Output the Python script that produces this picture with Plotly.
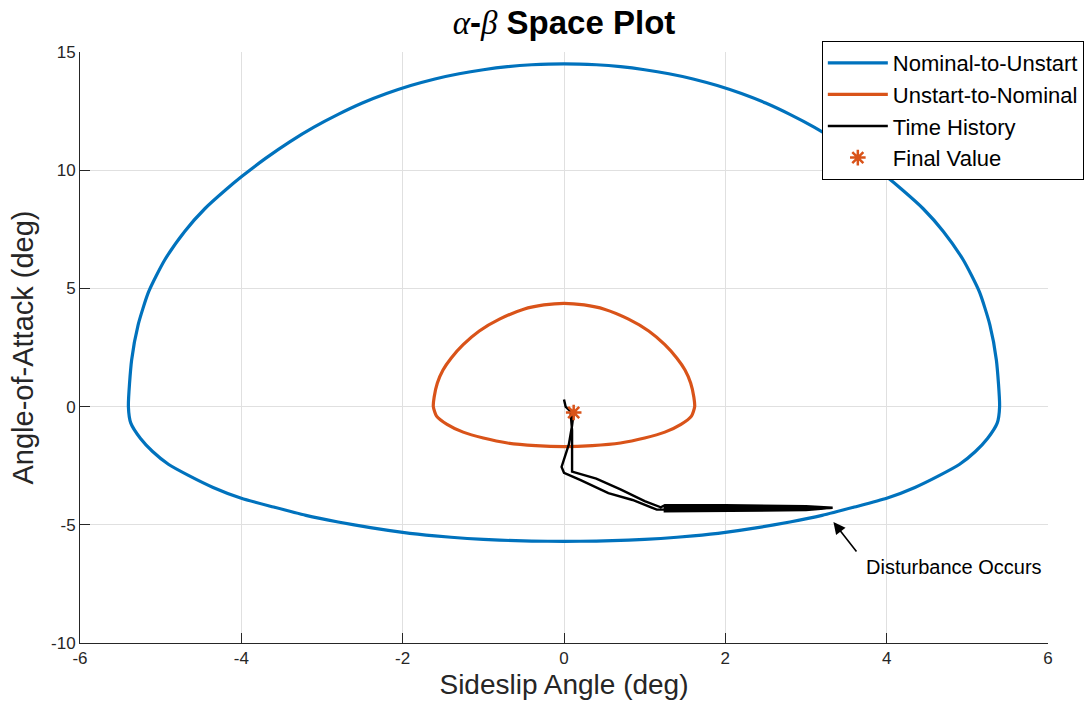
import plotly.graph_objects as go

# Nominal-to-Unstart boundary (upper arc left->right, then lower arc right->left)
nu_x = [-5.40, -5.36, -5.28, -5.15, -4.95, -4.70, -4.45, -4.20, -4.00, -3.70, -3.40, -3.10, -2.80, -2.50, -2.20,
        -1.90, -1.60, -1.30, -1.00, -0.70, -0.40, 0.00, 0.40, 0.70, 1.00, 1.30, 1.60, 1.90, 2.20, 2.50, 2.80,
        3.10, 3.40, 3.70, 4.00, 4.20, 4.45, 4.70, 4.95, 5.15, 5.28, 5.36, 5.40,
        5.37, 5.25, 5.10, 4.90, 4.65, 4.35, 4.00, 3.60, 3.20, 2.80, 2.40, 2.00, 1.60, 1.20, 0.80, 0.40, 0.00,
        -0.40, -0.80, -1.20, -1.60, -2.00, -2.40, -2.80, -3.20, -3.60, -4.00, -4.35, -4.65, -4.90, -5.10, -5.25,
        -5.37, -5.40]
nu_y = [0.00, 1.97, 3.45, 4.85, 6.20, 7.42, 8.38, 9.15, 9.72, 10.50, 11.20, 11.82, 12.36, 12.84, 13.24,
        13.58, 13.86, 14.08, 14.25, 14.38, 14.46, 14.50, 14.46, 14.38, 14.25, 14.08, 13.86, 13.58, 13.24, 12.84, 12.36,
        11.82, 11.20, 10.50, 9.72, 9.15, 8.38, 7.42, 6.20, 4.85, 3.45, 1.97, 0.00,
        -0.70, -1.35, -1.90, -2.45, -2.92, -3.42, -3.88, -4.25, -4.60, -4.88, -5.12, -5.32, -5.47, -5.58, -5.65, -5.69, -5.70,
        -5.69, -5.65, -5.58, -5.47, -5.32, -5.12, -4.88, -4.60, -4.25, -3.88, -3.42, -2.92, -2.45, -1.90, -1.35,
        -0.70, 0.00]

# Unstart-to-Nominal boundary
un_x = [-1.62, -1.61, -1.57, -1.50, -1.40, -1.25, -1.05, -0.80, -0.50, -0.25, 0.00, 0.25, 0.50, 0.80, 1.05, 1.25,
        1.40, 1.50, 1.57, 1.61, 1.62,
        1.58, 1.45, 1.25, 1.00, 0.70, 0.35, 0.00, -0.35, -0.70, -1.00, -1.25, -1.45, -1.58, -1.62]
un_y = [0.00, 0.40, 1.00, 1.55, 2.05, 2.62, 3.20, 3.70, 4.12, 4.30, 4.37, 4.30, 4.12, 3.70, 3.20, 2.62,
        2.05, 1.55, 1.00, 0.40, 0.00,
        -0.40, -0.75, -1.08, -1.33, -1.54, -1.65, -1.69, -1.65, -1.54, -1.33, -1.08, -0.75, -0.40, 0.00]

# Time history of the vehicle state
th_x = [0.00, 0.02, 0.08, 0.10, 0.10, 0.10, 0.40, 0.70, 1.00, 1.20,
        1.25, 2.00, 3.00, 3.33,
        3.00, 2.00, 1.25,
        1.25, 2.00, 3.00, 3.30,
        3.00, 2.00, 1.25,
        1.25, 2.00, 3.00, 3.30,
        3.00, 2.00, 1.25,
        1.25, 2.00, 3.00, 3.30,
        3.00, 2.00, 1.25, 1.15,
        0.85, 0.55, 0.20, 0.00, -0.03, 0.00, 0.06, 0.10, 0.12]
th_y = [0.30, 0.00, -0.20, -1.00, -2.00, -2.75, -3.05, -3.50, -4.00, -4.26,
        -4.17, -4.17, -4.21, -4.28,
        -4.38, -4.42, -4.43,
        -4.20, -4.20, -4.23, -4.28,
        -4.36, -4.40, -4.40,
        -4.23, -4.23, -4.25, -4.28,
        -4.34, -4.37, -4.37,
        -4.26, -4.26, -4.27, -4.29,
        -4.32, -4.33, -4.34, -4.36,
        -3.95, -3.66, -3.10, -2.80, -2.55, -2.20, -1.60, -0.80, -0.25]

final_x = [0.12]
final_y = [-0.25]

x_ticks = [-6, -4, -2, 0, 2, 4, 6]
y_ticks = [-10, -5, 0, 5, 10, 15]

FONT = "Liberation Sans, Arial, sans-serif"

fig = go.Figure()
fig.add_trace(go.Scatter(x=nu_x, y=nu_y, mode="lines", name="Nominal-to-Unstart",
                         line=dict(color="#0072BD", width=3.2, shape="spline", smoothing=0.6)))
fig.add_trace(go.Scatter(x=un_x, y=un_y, mode="lines", name="Unstart-to-Nominal",
                         line=dict(color="#D95319", width=3.2, shape="spline", smoothing=0.6)))
fig.add_trace(go.Scatter(x=th_x, y=th_y, mode="lines", name="Time History",
                         line=dict(color="black", width=2.4)))
fig.add_trace(go.Scatter(x=final_x, y=final_y, mode="markers", name="Final Value",
                         marker=dict(symbol="asterisk-open", size=13, color="#D95319",
                                     line=dict(color="#D95319", width=2.5))))

# Arrow for disturbance
fig.add_annotation(x=3.34, y=-4.88, ax=3.64, ay=-6.19, axref="x", ayref="y", xref="x", yref="y",
                   text="", showarrow=True, arrowhead=2, arrowsize=1.5, arrowwidth=1.6, arrowcolor="black")
fig.add_annotation(x=3.72, y=-6.78, xref="x", yref="y", text="Disturbance Occurs", showarrow=False,
                   xanchor="left", yanchor="middle", font=dict(family=FONT, size=20, color="black"))

axis_common = dict(showgrid=True, gridcolor="#e0e0e0", gridwidth=1, zeroline=False,
                   showline=True, linecolor="#262626", linewidth=1, mirror=False,
                   ticks="inside", ticklen=10, tickcolor="#262626", tickwidth=1,
                   tickfont=dict(family=FONT, size=17, color="#262626"))

title_text = ("<span style=\"font-family:'Liberation Serif', serif; font-weight:normal\"><i>α</i></span>"
              "<b>-</b>"
              "<span style=\"font-family:'Liberation Serif', serif; font-weight:normal\"><i>β</i></span>"
              " <b>Space Plot</b>")

fig.update_layout(
    width=1086, height=710,
    margin=dict(l=80, r=38, t=52, b=67, autoexpand=False),
    paper_bgcolor="white", plot_bgcolor="white",
    title=dict(text=title_text, x=0.5, xref="paper", y=0.969, yanchor="middle",
               xanchor="center", font=dict(family=FONT, size=33, color="black")),
    xaxis=dict(range=[-6, 6], tickvals=x_ticks, ticktext=[str(v) for v in x_ticks],
               title=dict(text="Sideslip Angle (deg)", font=dict(family=FONT, size=28, color="#262626"), standoff=6),
               **axis_common),
    yaxis=dict(range=[-10, 15], tickvals=y_ticks, ticktext=[str(v) for v in y_ticks],
               title=dict(text="Angle-of-Attack (deg)", font=dict(family=FONT, size=29, color="#262626"), standoff=8),
               **axis_common),
    legend=dict(xref="container", yref="container", x=0.998, y=1 - 41 / 710, xanchor="right", yanchor="top",
                bgcolor="white", bordercolor="black", borderwidth=1,
                font=dict(family=FONT, size=22, color="black"),
                tracegroupgap=0, itemwidth=60),
    showlegend=True,
)

fig.write_html("out.html")
